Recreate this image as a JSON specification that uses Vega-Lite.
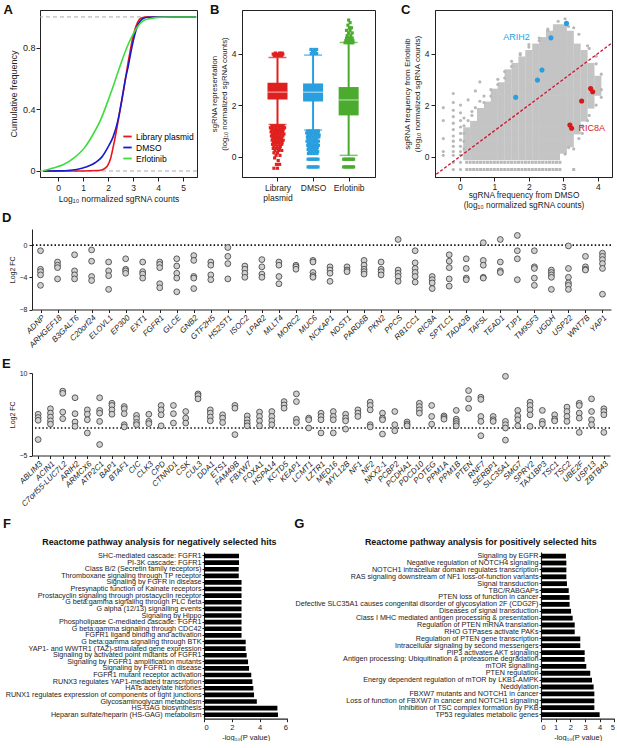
{
"$schema":"https://vega.github.io/schema/vega-lite/v6.json",
"background":"white",
"padding":{"left":2,"top":3,"right":0,"bottom":0},
"spacing":0,
"bounds":"full",
"config":{
 "font":"Liberation Sans",
 "view":{"stroke":null},
 "title":{"font":"Liberation Sans","color":"#111"},
 "axis":{"grid":false,"domainColor":"#222","tickColor":"#222","labelColor":"#222","titleColor":"#222","labelFont":"Liberation Sans","titleFont":"Liberation Sans","titleFontWeight":"normal","tickSize":4,"labelFontSize":8.5,"titleFontSize":8.5}
},
"vconcat":[
 {"hconcat":[
  {"width":8,"height":1,"data":{"values":[{"a":0}]},"mark":{"type":"point","opacity":0},"encoding":{}},
  {"width":157,"height":167,"view":{"stroke":"#222"},
   "title":{"text":"A","anchor":"start","frame":"group","dx":-36.5,"dy":16.5,"offset":0,"baseline":"alphabetic","fontSize":13,"fontWeight":"bold"},
   "layer":[
    {"data":{"values":[{"h":0},{"h":1}]},"mark":{"type":"rule","color":"#aaaaaa","strokeDash":[4,3],"strokeWidth":1},
     "encoding":{"y":{"field":"h","type":"quantitative","scale":{"domain":[-0.039,1.045]}}}},
    {"data":{"values":[
      {"s":"Library plasmid","c":[-0.6,1.0,1.6,1.8,1.9,2.0,2.1,2.2,2.3,2.4,2.5,2.6,2.7,2.8,2.9,3.0,3.1,3.2,3.3,3.5,5.5],"f":[0,0,0.003,0.01,0.02,0.04,0.08,0.15,0.23,0.32,0.41,0.5,0.6,0.7,0.79,0.87,0.93,0.97,0.99,1.0,1.0]},
      {"s":"DMSO","c":[-0.6,0,0.5,1.0,1.2,1.5,1.75,2.0,2.2,2.4,2.55,2.7,2.81,2.95,3.08,3.2,3.3,3.41,3.6,4.0,5.5],"f":[0,0.001,0.005,0.02,0.03,0.055,0.09,0.155,0.22,0.33,0.46,0.6,0.68,0.8,0.89,0.95,0.975,0.99,0.998,1,1]},
      {"s":"Erlotinib","c":[-0.6,-0.19,0.2,0.68,1.08,1.41,1.7,2.01,2.25,2.48,2.75,3.01,3.2,3.41,3.7,4.0,4.5,5.5],"f":[0.002,0.02,0.04,0.09,0.155,0.24,0.33,0.46,0.57,0.68,0.8,0.89,0.94,0.975,0.99,0.997,1,1]}
     ]},
     "transform":[{"flatten":["c","f"]}],
     "mark":{"type":"line","interpolate":"monotone","strokeWidth":1.6},
     "encoding":{
      "x":{"field":"c","type":"quantitative","scale":{"domain":[-0.72,5.56],"nice":false,"zero":false},"axis":{"values":[0,1,2,3,4,5],"title":"Log₁₀ normalized sgRNA counts","titleFontSize":8.5,"labelFontSize":8.5,"titlePadding":3}},
      "y":{"field":"f","type":"quantitative","scale":{"domain":[-0.039,1.045],"nice":false,"zero":false},"axis":{"values":[0,0.2,0.4,0.6,0.8,1],"labelExpr":"datum.value == 0 ? '0' : format(datum.value, '.1f')","title":"Cumulative frequency","titleFontSize":9,"labelFontSize":9,"labelPadding":1}},
      "color":{"field":"s","type":"nominal","scale":{"domain":["Library plasmid","DMSO","Erlotinib"],"range":["#e8141b","#1a1acc","#3ddc3d"]},
       "legend":{"orient":"none","legendX":82,"legendY":121,"title":null,"symbolType":"stroke","symbolSize":70,"symbolStrokeWidth":1.8,"labelFontSize":8.5,"labelFont":"Liberation Sans","rowPadding":1,"labelOffset":3,"padding":0}}
     }}
   ]},
  {"width":45,"height":1,"data":{"values":[{"a":0}]},"mark":{"type":"point","opacity":0},"encoding":{}},
  {"width":133,"height":167,"view":{"stroke":"#222"},
   "title":{"text":"B","anchor":"start","frame":"group","dx":-32,"dy":16.5,"offset":0,"baseline":"alphabetic","fontSize":13,"fontWeight":"bold"},
   "encoding":{
    "x":{"type":"quantitative","scale":{"domain":[0.143,3.6],"nice":false,"zero":false}},
    "color":{"field":"s","type":"nominal","scale":{"domain":["Library plasmid","DMSO","Erlotinib"],"range":["#e0201e","#2a9fdf","#4aab2f"]},"legend":null}
   },
   "layer":[
    {"data":{"values":[
      {"s":"Library plasmid","p":1,"lo":1.25,"q1":2.22,"md":2.5,"q3":2.87,"hi":3.85},
      {"s":"DMSO","p":2,"lo":1.03,"q1":2.14,"md":2.5,"q3":2.84,"hi":3.94},
      {"s":"Erlotinib","p":3,"lo":0.05,"q1":1.6,"md":2.2,"q3":2.7,"hi":4.43}]},
     "layer":[
      {"mark":{"type":"rule","strokeWidth":2},
       "encoding":{"x":{"field":"p","type":"quantitative","axis":{"values":[1,2,3],"labelExpr":"datum.value == 1 ? ['Library','plasmid'] : datum.value == 2 ? 'DMSO' : 'Erlotinib'","title":".","titleColor":"rgba(0,0,0,0)","titlePadding":0.2,"labelFontSize":8.5}},
        "y":{"field":"lo","type":"quantitative","scale":{"domain":[-0.79,5.69],"nice":false,"zero":false},"axis":{"values":[0,1,2,3,4,5],"title":["sgRNA representation","(log₁₀ normalized sgRNA counts)"],"titleFontSize":7.8,"labelFontSize":8.5,"labelPadding":2,"titlePadding":3}},
        "y2":{"field":"hi"}}},
      {"mark":{"type":"tick","orient":"horizontal","size":18,"thickness":1.5},
       "encoding":{"x":{"field":"p","type":"quantitative"},"y":{"field":"lo","type":"quantitative"}}},
      {"mark":{"type":"tick","orient":"horizontal","size":18,"thickness":1.5},
       "encoding":{"x":{"field":"p","type":"quantitative"},"y":{"field":"hi","type":"quantitative"}}},
      {"mark":{"type":"bar","size":20,"opacity":1},
       "encoding":{"x":{"field":"p","type":"quantitative"},"y":{"field":"q1","type":"quantitative"},"y2":{"field":"q3"}}},
      {"mark":{"type":"tick","orient":"horizontal","size":20,"thickness":1.3,"opacity":0.55},
       "encoding":{"x":{"field":"p","type":"quantitative"},"y":{"field":"md","type":"quantitative"},"color":{"value":"white"}}}
     ]},
    {"data":{"values":[
      {"s":"Library plasmid","y":3.98,"xs":[0.88,0.95,1.02,1.09,1.15]},
      {"s":"Library plasmid","y":3.92,"xs":[0.91,0.98,1.05,1.12]},
      {"s":"Library plasmid","y":4.02,"xs":[0.94,1.06,1.13]},
      {"s":"Library plasmid","y":1.2,"xs":[0.84,0.92,1.0,1.08,1.16]},
      {"s":"Library plasmid","y":1.12,"xs":[0.8,0.88,0.96,1.04,1.12,1.2]},
      {"s":"Library plasmid","y":1.04,"xs":[0.84,0.92,1.0,1.08,1.16]},
      {"s":"Library plasmid","y":0.96,"xs":[0.82,0.9,0.98,1.06,1.14]},
      {"s":"Library plasmid","y":0.88,"xs":[0.86,0.94,1.02,1.1,1.18]},
      {"s":"Library plasmid","y":0.8,"xs":[0.83,0.91,0.99,1.07,1.15]},
      {"s":"Library plasmid","y":0.72,"xs":[0.87,0.95,1.03,1.11]},
      {"s":"Library plasmid","y":0.64,"xs":[0.85,0.93,1.01,1.09,1.16]},
      {"s":"Library plasmid","y":0.56,"xs":[0.89,0.97,1.05,1.13]},
      {"s":"Library plasmid","y":0.48,"xs":[0.86,0.95,1.04,1.12]},
      {"s":"Library plasmid","y":0.4,"xs":[0.9,0.99,1.08]},
      {"s":"Library plasmid","y":0.32,"xs":[0.88,0.97,1.06]},
      {"s":"Library plasmid","y":0.24,"xs":[0.93,1.03,1.12]},
      {"s":"Library plasmid","y":0.15,"xs":[0.9,1.0]},
      {"s":"Library plasmid","y":0.05,"xs":[0.96,1.07]},
      {"s":"Library plasmid","y":-0.05,"xs":[0.92]},
      {"s":"Library plasmid","y":-0.15,"xs":[1.02]},
      {"s":"Library plasmid","y":-0.3,"xs":[0.97,1.06]},
      {"s":"Library plasmid","y":-0.45,"xs":[0.9,1.0]},
      {"s":"DMSO","y":4.0,"xs":[1.95,2.03,2.1]},
      {"s":"DMSO","y":4.08,"xs":[1.98,2.06]},
      {"s":"DMSO","y":4.16,"xs":[1.94,2.02,2.1]},
      {"s":"DMSO","y":1.0,"xs":[1.85,1.93,2.01,2.09,2.15]},
      {"s":"DMSO","y":0.92,"xs":[1.82,1.9,1.98,2.06,2.14]},
      {"s":"DMSO","y":0.84,"xs":[1.86,1.94,2.02,2.1,2.17]},
      {"s":"DMSO","y":0.76,"xs":[1.84,1.92,2.0,2.08,2.16]},
      {"s":"DMSO","y":0.68,"xs":[1.86,1.94,2.02,2.1]},
      {"s":"DMSO","y":0.6,"xs":[1.83,1.91,1.99,2.07,2.15]},
      {"s":"DMSO","y":0.52,"xs":[1.87,1.95,2.03,2.11]},
      {"s":"DMSO","y":0.44,"xs":[1.85,1.93,2.01,2.09,2.15]},
      {"s":"DMSO","y":0.36,"xs":[1.88,1.96,2.04,2.12]},
      {"s":"DMSO","y":0.28,"xs":[1.86,1.94,2.02,2.1]},
      {"s":"DMSO","y":0.2,"xs":[1.89,1.97,2.05,2.13]},
      {"s":"DMSO","y":0.12,"xs":[1.87,1.95,2.03,2.11]},
      {"s":"DMSO","y":-0.1,"xs":[1.86,1.9,1.94,1.98,2.02,2.06,2.1,2.14]},
      {"s":"DMSO","y":-0.4,"xs":[1.86,1.9,1.94,1.98,2.02,2.06,2.1,2.14]},
      {"s":"Erlotinib","y":4.42,"xs":[2.9,2.96,3.02,3.08,3.12]},
      {"s":"Erlotinib","y":4.5,"xs":[2.92,3.0,3.06,3.12]},
      {"s":"Erlotinib","y":4.6,"xs":[2.94,3.02,3.1]},
      {"s":"Erlotinib","y":4.7,"xs":[2.96,3.06]},
      {"s":"Erlotinib","y":4.8,"xs":[3.0,3.1]},
      {"s":"Erlotinib","y":4.9,"xs":[2.94,3.04]},
      {"s":"Erlotinib","y":5.0,"xs":[3.02,3.08]},
      {"s":"Erlotinib","y":5.1,"xs":[2.98]},
      {"s":"Erlotinib","y":5.2,"xs":[3.04]},
      {"s":"Erlotinib","y":5.3,"xs":[3.0]},
      {"s":"Erlotinib","y":-0.1,"xs":[2.86,2.9,2.94,2.98,3.02,3.06,3.1,3.14]},
      {"s":"Erlotinib","y":-0.4,"xs":[2.86,2.9,2.94,2.98,3.02,3.06,3.1,3.14]}
     ]},
     "transform":[{"flatten":["xs"]}],
     "mark":{"type":"point","shape":"square","filled":true,"size":10,"opacity":1},
     "encoding":{"x":{"field":"xs","type":"quantitative"},"y":{"field":"y","type":"quantitative"}}}
   ]},
  {"width":60,"height":1,"data":{"values":[{"a":0}]},"mark":{"type":"point","opacity":0},"encoding":{}},
  {"width":177,"height":167,"view":{"stroke":"#222"},
   "title":{"text":"C","anchor":"start","frame":"group","dx":-34,"dy":16.5,"offset":0,"baseline":"alphabetic","fontSize":13,"fontWeight":"bold"},
   "layer":[
    {"data":{"values":[
      {"x":0.2,"ys":[0,0.25,0.5,0.75,1]},
      {"x":0.4,"ys":[0,0.25,0.5,0.75,1,1.25]},
      {"x":0.6,"ys":[0,0.25,0.5,0.75,1,1.25,1.5,1.75]},
      {"x":0.8,"ys":[0,0.25,0.5,0.75,1,1.25,1.5,1.75,2]},
      {"x":1.0,"ys":[0,0.25,0.5,0.75,1,1.25,1.5,1.75,2,2.25,2.5]},
      {"x":1.2,"ys":[0,0.25,0.5,0.75,1,1.25,1.5,1.75,2,2.25,2.5,2.75]},
      {"x":1.4,"ys":[0,0.25,0.5,0.75,1,1.25,1.5,1.75,2,2.25,2.5,2.75,3,3.25]},
      {"x":1.6,"ys":[0,0.25,0.5,0.75,1,1.25,1.5,1.75,2,2.25,2.5,2.75,3,3.25,3.5]},
      {"x":1.8,"ys":[0,0.25,0.5,0.75,1,1.25,1.5,1.75,2,2.25,2.5,2.75,3,3.25,3.5,3.75]},
      {"x":2.0,"ys":[0,0.25,0.5,0.75,1,1.25,1.5,1.75,2,2.25,2.5,2.75,3,3.25,3.5,3.75,4]},
      {"x":2.2,"ys":[0,0.25,0.5,0.75,1,1.25,1.5,1.75,2,2.25,2.5,2.75,3,3.25,3.5,3.75,4,4.25]},
      {"x":2.4,"ys":[0,0.25,0.5,0.75,1,1.25,1.5,1.75,2,2.25,2.5,2.75,3,3.25,3.5,3.75,4,4.25,4.5]},
      {"x":2.6,"ys":[0,0.25,0.5,0.75,1,1.25,1.5,1.75,2,2.25,2.5,2.75,3,3.25,3.5,3.75,4,4.25,4.5,4.75]},
      {"x":2.8,"ys":[0,0.25,0.5,0.75,1,1.25,1.5,1.75,2,2.25,2.5,2.75,3,3.25,3.5,3.75,4,4.25,4.5,4.75,5]},
      {"x":3.0,"ys":[0.25,0.5,0.75,1,1.25,1.5,1.75,2,2.25,2.5,2.75,3,3.25,3.5,3.75,4,4.25,4.5,4.75,5]},
      {"x":3.2,"ys":[0.5,0.75,1,1.25,1.5,1.75,2,2.25,2.5,2.75,3,3.25,3.5,3.75,4,4.25,4.5,4.75]},
      {"x":3.4,"ys":[1,1.25,1.5,1.75,2,2.25,2.5,2.75,3,3.25,3.5,3.75,4,4.25]},
      {"x":3.6,"ys":[1.5,1.75,2,2.25,2.5,2.75,3,3.25,3.5,3.75,4]},
      {"x":3.8,"ys":[2,2.25,2.5,2.75,3,3.25,3.5]},
      {"x":4.0,"ys":[2.5,2.75,3]}
     ]},
     "transform":[{"flatten":["ys"]}],
     "mark":{"type":"point","shape":"square","filled":true,"size":50,"color":"#c4c4c4","opacity":1},
     "encoding":{
      "x":{"field":"x","type":"quantitative","scale":{"domain":[-0.72,4.41],"nice":false,"zero":false},"axis":{"values":[0,1,2,3,4],"title":["sgRNA frequency from DMSO","(log₁₀ normalized sgRNA counts)"],"titleFontSize":8.3,"labelFontSize":8.5,"labelPadding":1,"titlePadding":0}},
      "y":{"field":"ys","type":"quantitative","scale":{"domain":[-0.79,5.69],"nice":false,"zero":false},"axis":{"values":[0,1,2,3,4,5],"title":["sgRNA frequency from Erlotinib","(log₁₀ normalized sgRNA counts)"],"titleFontSize":8,"labelFontSize":8.5,"labelPadding":2,"titlePadding":3}}}},
    {"data":{"values":[
      {"x":-0.48,"ys":[1.9,1.4,0.7,0.2,0.05]},
      {"x":-0.19,"ys":[2.45,2.1,1.8,1.55,1.3,1.05,0.8,0.6,0.4,0.2,0.05,-0.22,-0.5]},
      {"x":0.02,"ys":[2.0,1.7,1.4,1.15,0.9,0.65,0.4,0.2,0.05,-0.22,-0.5]},
      {"x":0.12,"ys":[1.5,1.2,0.9,0.6,0.3]},
      {"x":0.24,"ys":[2.2,1.4]},
      {"x":0.35,"ys":[1.75,1.6]},
      {"x":0.45,"ys":[2.55,1.9]},
      {"x":0.58,"ys":[2.9,2.15]},
      {"x":0.7,"ys":[2.35,2.1]},
      {"x":0.9,"ys":[2.6,2.35]},
      {"x":1.1,"ys":[3.0,2.8]},
      {"x":1.3,"ys":[3.3,3.05]},
      {"x":1.5,"ys":[3.7,3.5]},
      {"x":1.75,"ys":[4.0,3.95]},
      {"x":2.0,"ys":[4.35,4.25]},
      {"x":2.3,"ys":[4.6,4.5]},
      {"x":2.55,"ys":[4.95,4.9]},
      {"x":2.85,"ys":[5.25]},
      {"x":3.05,"ys":[5.35,0.1]},
      {"x":3.15,"ys":[5.05,0.35]},
      {"x":3.3,"ys":[0.3,5.0]},
      {"x":3.45,"ys":[4.75,0.7]},
      {"x":3.55,"ys":[0.9,1.2]},
      {"x":3.7,"ys":[4.3,1.4]},
      {"x":3.75,"ys":[1.6,4.2]},
      {"x":3.95,"ys":[2.0,3.9,3.6]},
      {"x":4.1,"ys":[2.6,3.2,2.3]}
     ]},
     "transform":[{"flatten":["ys"]}],
     "mark":{"type":"point","shape":"circle","filled":true,"size":10,"color":"#b8b8b8","opacity":1},
     "encoding":{"x":{"field":"x","type":"quantitative"},"y":{"field":"ys","type":"quantitative"}}},
    {"data":{"values":[
      {"y":-0.22,"xs":[0.2,0.3,0.4,0.5,0.6,0.7,0.8,0.9,1.0,1.1,1.2,1.3,1.4,1.5,1.6,1.7,1.8,1.9,2.0,2.1,2.2,2.3,2.4,2.5,2.6,2.7,2.8,2.9]},
      {"y":-0.5,"xs":[0.2,0.3,0.4,0.5,0.6,0.7,0.8,0.9,1.0,1.1,1.2,1.3,1.4,1.5,1.6,1.7,1.8,1.9,2.0,2.1,2.2,2.3,2.4,2.5,2.6,2.7,2.8,2.9,3.3]}
     ]},
     "transform":[{"flatten":["xs"]}],
     "mark":{"type":"point","shape":"square","filled":true,"size":9,"color":"#b8b8b8","opacity":1},
     "encoding":{"x":{"field":"xs","type":"quantitative"},"y":{"field":"y","type":"quantitative"}}},
    {"data":{"values":[{"a":-0.8,"b":-0.8},{"a":4.5,"b":4.5}]},
     "mark":{"type":"line","color":"#c8102e","strokeDash":[3,2],"strokeWidth":1.3,"clip":true},
     "encoding":{"x":{"field":"a","type":"quantitative"},"y":{"field":"b","type":"quantitative"}}},
    {"data":{"values":[
      {"g":"ARIH2","a":1.62,"b":2.30},{"g":"ARIH2","a":2.25,"b":2.97},{"g":"ARIH2","a":2.38,"b":3.36},{"g":"ARIH2","a":2.64,"b":4.61},{"g":"ARIH2","a":3.09,"b":5.17},
      {"g":"RIC8A","a":3.53,"b":2.16},{"g":"RIC8A","a":3.79,"b":2.64},{"g":"RIC8A","a":3.85,"b":2.52},{"g":"RIC8A","a":3.19,"b":1.23},{"g":"RIC8A","a":3.24,"b":1.10}
     ]},
     "mark":{"type":"point","shape":"circle","filled":true,"size":26,"opacity":1},
     "encoding":{"x":{"field":"a","type":"quantitative"},"y":{"field":"b","type":"quantitative"},
      "color":{"field":"g","type":"nominal","scale":{"domain":["ARIH2","RIC8A"],"range":["#2a9fdf","#d7191c"]},"legend":null}}},
    {"data":{"values":[{"g":"ARIH2","a":1.64,"b":4.65},{"g":"RIC8A","a":3.82,"b":1.1}]},
     "mark":{"type":"text","fontSize":9,"baseline":"middle","align":"center"},
     "encoding":{"x":{"field":"a","type":"quantitative"},"y":{"field":"b","type":"quantitative"},"text":{"field":"g"},
      "color":{"field":"g","type":"nominal","legend":null}}}
   ]}
  ],
  "spacing":0,"bounds":"flush",
  "resolve":{"scale":{"color":"independent"},"legend":{"color":"independent"}}},
 {"width":579,"height":80.5,
  "title":{"text":"D","anchor":"start","frame":"group","dx":-30,"dy":6,"offset":0,"baseline":"alphabetic","fontSize":13,"fontWeight":"bold"},
  "layer":[
   {"data":{"values":[{"z":0}]},"mark":{"type":"rule","color":"#111","strokeDash":[1.5,2.2],"strokeWidth":1.6},
    "encoding":{"y":{"field":"z","type":"quantitative","scale":{"domain":[-8,2],"nice":false}}}},
   {"data":{"values":[
     {"g":"ADNP","v":[-0.7,-3.0,-3.3,-3.7,-5.0]},
     {"g":"ARHGEF18","v":[-2.1,-2.5,-2.8,-4.2]},
     {"g":"B3GALT6","v":[-1.2,-3.2,-3.7,-4.2]},
     {"g":"C20orf24","v":[-0.6,-2.0,-3.9,-4.4]},
     {"g":"ELOVL1","v":[-2.1,-3.2,-3.8,-5.5]},
     {"g":"EP300","v":[-1.7,-3.0,-3.2,-3.5]},
     {"g":"EXT1","v":[-2.1,-3.3,-3.6,-4.1]},
     {"g":"FGFR1","v":[-2.1,-2.4,-2.8,-4.8,-5.3]},
     {"g":"GLCE","v":[-1.7,-2.6,-3.5,-4.1,-5.8]},
     {"g":"GNB2","v":[-1.3,-1.9,-3.9,-4.1,-5.4]},
     {"g":"GTF2H5","v":[-2.1,-2.5,-3.7,-4.3]},
     {"g":"HS2ST1","v":[-0.3,-1.4,-2.3,-4.2]},
     {"g":"ISOC2","v":[-2.6,-3.0,-3.5,-4.0]},
     {"g":"LPAR2","v":[-1.8,-2.7,-3.6,-4.0]},
     {"g":"MLLT4","v":[-2.1,-2.5,-3.9,-4.8]},
     {"g":"MORC2","v":[-2.5,-2.7,-3.0]},
     {"g":"MUC6","v":[-1.9,-2.1,-3.4,-3.8,-4.0]},
     {"g":"NCKAP1","v":[-2.7,-3.1,-3.5,-4.5]},
     {"g":"NDST1","v":[-2.7,-3.1,-3.3]},
     {"g":"PARD6B","v":[-1.9,-2.5,-3.0,-3.3,-3.6]},
     {"g":"PKN2","v":[-2.1,-3.0,-3.3,-3.7]},
     {"g":"PPCS","v":[0.7,-3.1,-3.5,-3.9,-4.5]},
     {"g":"RB1CC1","v":[-0.7,-2.2,-2.9,-3.4,-3.9,-4.6]},
     {"g":"RIC8A","v":[-3.9,-4.3,-4.7,-5.4]},
     {"g":"SPTLC1","v":[-1.2,-2.0,-2.8,-4.2,-5.1]},
     {"g":"TADA2B","v":[-1.7,-2.9,-4.1,-4.3]},
     {"g":"TAF5L","v":[0.3,-1.9,-2.5,-4.0,-4.1]},
     {"g":"TEAD1","v":[0.7,-2.1,-3.2,-3.4]},
     {"g":"TJP1","v":[1.2,-0.7,-1.7,-4.3]},
     {"g":"TM9SF3","v":[-0.7,-2.7,-2.9,-4.1,-5.0]},
     {"g":"UGDH","v":[-3.1,-3.4,-3.7,-4.0,-5.5]},
     {"g":"USP22","v":[-0.1,-2.9,-4.0,-4.7,-5.0,-5.5]},
     {"g":"WNT7B","v":[-1.4,-2.7,-3.0,-3.1]},
     {"g":"YAP1","v":[-1.0,-1.4,-1.8,-2.3,-2.9,-6.1]}
    ]},
    "transform":[{"flatten":["v"]}],
    "mark":{"type":"point","shape":"circle","filled":true,"size":34,"fill":"#d0d0d0","stroke":"#3a3a3a","strokeWidth":0.8,"opacity":1},
    "encoding":{
     "x":{"field":"g","type":"nominal","sort":null,"scale":{"paddingInner":0,"paddingOuter":0},"axis":{"title":".","titleColor":"rgba(0,0,0,0)","titleFontSize":8,"titlePadding":0.5,"labelAngle":-45,"labelFontSize":8,"labelFontStyle":"italic","tickSize":3,"labelPadding":1}},
     "y":{"field":"v","type":"quantitative","axis":{"values":[-8,-6,-4,-2,0,2],"title":"Log2 FC","titleFontSize":7,"labelFontSize":7,"tickSize":3,"titlePadding":4}}}}
  ]},
 {"width":578,"height":82.5,
  "title":{"text":"E","anchor":"start","frame":"group","dx":-30,"dy":12,"offset":0,"baseline":"alphabetic","fontSize":13,"fontWeight":"bold"},
  "layer":[
   {"data":{"values":[{"z":0}]},"mark":{"type":"rule","color":"#111","strokeDash":[1.5,2.2],"strokeWidth":1.6},
    "encoding":{"y":{"field":"z","type":"quantitative","scale":{"domain":[-5,10],"nice":false}}}},
   {"data":{"values":[
     {"g":"ABLIM3","v":[2.5,1.9,1.4,-2.1]},
     {"g":"ACIN1","v":[3.5,2.7,2.0,1.3,0.7]},
     {"g":"C7orf55-LUC7L2","v":[6.7,6.3,2.9,1.7]},
     {"g":"ARIH2","v":[5.5,2.6,1.1,0.3]},
     {"g":"ARMCX6","v":[3.3,2.5,1.5,-0.9]},
     {"g":"ATP2C1","v":[5.5,3.2,2.7,1.2,-3.0]},
     {"g":"BAP1","v":[4.5,4.1,3.3,2.5]},
     {"g":"BTAF1","v":[3.9,3.5,2.6,0.6,0.2]},
     {"g":"CIC","v":[2.3,1.7,1.0,0.6]},
     {"g":"CLK3","v":[2.5,1.2,0.8]},
     {"g":"CPD","v":[4.1,3.3,2.4,0.4]},
     {"g":"CTNND1","v":[4.1,2.6,0.9]},
     {"g":"CSK","v":[3.0,1.8,0.9]},
     {"g":"CUL3","v":[6.2,5.9,5.3]},
     {"g":"DDA1","v":[3.3,2.7,2.0,1.3]},
     {"g":"ETS1","v":[2.4,1.8,1.0]},
     {"g":"FAM49B","v":[4.1,3.6,-1.2]},
     {"g":"FBXW7","v":[2.2,1.5,0.9,0.4]},
     {"g":"FOXA1","v":[2.9,2.1,1.3,0.4]},
     {"g":"HSPA14","v":[3.0,2.1,1.3,0.6]},
     {"g":"KCTD5","v":[4.8,4.2,3.6]},
     {"g":"KEAP1","v":[6.2,4.8,1.6,1.0]},
     {"g":"LCMT1","v":[1.8,1.5,0.0]},
     {"g":"LZTR1","v":[2.7,2.1,1.5,-0.9]},
     {"g":"MED16","v":[3.0,2.1,1.5,-0.9]},
     {"g":"MYL12B","v":[2.5,1.8,1.3,-0.2]},
     {"g":"NF1","v":[3.3,2.7,2.1]},
     {"g":"NF2","v":[4.7,4.1,3.3,0.6,0.2]},
     {"g":"NKX2-1","v":[2.7,1.8,1.5,-1.1]},
     {"g":"PCBP2","v":[3.0,0.6,-0.5]},
     {"g":"PCDHA1","v":[1.1,0.7,0.4]},
     {"g":"PDCD10","v":[4.5,3.9,3.3,2.7]},
     {"g":"POTEG","v":[4.1,2.1,0.7]},
     {"g":"PPM1A","v":[2.2,1.9,1.6]},
     {"g":"PPM1B","v":[3.2,1.6,1.2,0.8,0.4]},
     {"g":"PTEN","v":[6.8,5.3,3.6]},
     {"g":"RNF7","v":[5.6,5.2,2.1,1.2,-1.4]},
     {"g":"SERBP1","v":[2.1,1.5,1.2]},
     {"g":"SLC35A1","v":[9.4,1.2,0.6,0.0,-2.2]},
     {"g":"SMG7","v":[3.2,2.2,1.5,0.4]},
     {"g":"SPRY2","v":[4.7,4.1,3.3,2.4,0.3]},
     {"g":"TAX1BP3","v":[3.2,1.2,0.7]},
     {"g":"TSC1","v":[2.4,1.6,1.3]},
     {"g":"TSC2","v":[3.8,3.0,2.1,1.2]},
     {"g":"UBE2F","v":[4.5,4.1,2.7,1.8,-0.8]},
     {"g":"USP13","v":[5.3,3.0,1.5,0.6]},
     {"g":"ZBTB43","v":[3.5,3.0,2.4,-0.8]}
    ]},
    "transform":[{"flatten":["v"]}],
    "mark":{"type":"point","shape":"circle","filled":true,"size":34,"fill":"#d0d0d0","stroke":"#3a3a3a","strokeWidth":0.8,"opacity":1},
    "encoding":{
     "x":{"field":"g","type":"nominal","sort":null,"scale":{"paddingInner":0,"paddingOuter":0.08},"axis":{"title":".","titleColor":"rgba(0,0,0,0)","titleFontSize":8,"titlePadding":0.6,"labelAngle":-45,"labelFontSize":8,"labelFontStyle":"italic","tickSize":3,"labelPadding":1}},
     "y":{"field":"v","type":"quantitative","axis":{"values":[-5,0,5,10],"title":"Log2 FC","titleFontSize":7,"labelFontSize":7,"tickSize":3,"titlePadding":4}}}}
  ]},
 {"hconcat":[
  {"width":171.3,"height":1,"data":{"values":[{"a":0}]},"mark":{"type":"point","opacity":0},"encoding":{},
   "title":{"text":"F","anchor":"start","frame":"group","dx":-29,"dy":-9.2,"offset":0,"baseline":"alphabetic","fontSize":13,"fontWeight":"bold"}},
  {"width":83.4,"height":166.7,
   "title":{"text":"Reactome pathway analysis for negatively selected hits","anchor":"middle","frame":"bounds","dx":13,"dy":2,"offset":0,"baseline":"alphabetic","fontSize":8.9,"fontWeight":"bold"},
   "data":{"values":[
    {"p":"SHC-mediated cascade: FGFR1","v":2.52},
    {"p":"PI-3K cascade: FGFR1","v":2.52},
    {"p":"Class B/2 (Secretin family receptors)","v":2.5},
    {"p":"Thromboxane signaling through TP receptor","v":2.5},
    {"p":"Signaling by FGFR in disease","v":2.7},
    {"p":"Presynaptic function of Kainate receptors","v":2.7},
    {"p":"Prostacyclin signaling through prostacyclin receptor","v":2.7},
    {"p":"G beta:gamma signaling through PLC beta","v":2.7},
    {"p":"G alpha (12/13) signalling events","v":2.7},
    {"p":"Signaling by Hippo","v":2.7},
    {"p":"Phospholipase C-mediated cascade: FGFR1","v":2.7},
    {"p":"G beta:gamma signaling through CDC42","v":2.7},
    {"p":"FGFR1 ligand binding and activation","v":2.7},
    {"p":"G beta:gamma signaling through BTK","v":3.0},
    {"p":"YAP1- and WWTR1 (TAZ)-stimulated gene expression","v":3.0},
    {"p":"Signaling by activated point mutants of FGFR1","v":3.07},
    {"p":"Signaling by FGFR1 amplification mutants","v":3.17},
    {"p":"Signaling by FGFR1 in disease","v":3.24},
    {"p":"FGFR1 mutant receptor activation","v":3.4},
    {"p":"RUNX3 regulates YAP1-mediated transcription","v":3.48},
    {"p":"HATs acetylate histones","v":3.55},
    {"p":"RUNX1 regulates expression of components of tight junctions","v":3.6},
    {"p":"Glycosaminoglycan metabolism","v":3.8},
    {"p":"HS-GAG biosynthesis","v":5.28},
    {"p":"Heparan sulfate/heparin (HS-GAG) metabolism","v":5.32}
   ]},
   "mark":{"type":"bar","color":"#000"},
   "encoding":{
    "y":{"field":"p","type":"nominal","sort":null,"scale":{"paddingInner":0.3,"paddingOuter":0.25},"axis":{"title":null,"labelFontSize":7.2,"labelLimit":400,"tickSize":2,"labelPadding":1,"domainWidth":1.2}},
    "x":{"field":"v","type":"quantitative","scale":{"domain":[0,6],"nice":false},"axis":{"values":[0,2,4,6],"title":"-log₁₀(P value)","titleFontSize":7.5,"labelFontSize":7.5,"tickSize":3,"domainWidth":1.2,"titlePadding":2}}}},
  {"width":252.3,"height":1,"data":{"values":[{"a":0}]},"mark":{"type":"point","opacity":0},"encoding":{},
   "title":{"text":"G","anchor":"start","frame":"group","dx":6.3,"dy":-9.2,"offset":0,"baseline":"alphabetic","fontSize":13,"fontWeight":"bold"}},
  {"width":73.3,"height":166.7,
   "title":{"text":"Reactome pathway analysis for positively selected hits","anchor":"middle","frame":"bounds","dx":26,"dy":2,"offset":0,"baseline":"alphabetic","fontSize":8.9,"fontWeight":"bold"},
   "data":{"values":[
    {"p":"Signaling by EGFR","v":1.7},
    {"p":"Negative regulation of NOTCH4 signaling","v":1.73},
    {"p":"NOTCH1 intracellular domain regulates transcription","v":1.73},
    {"p":"RAS signaling downstream of NF1 loss-of-function variants","v":1.73},
    {"p":"Signal transduction","v":1.77},
    {"p":"TBC/RABGAPs","v":1.89},
    {"p":"PTEN loss of function in cancer","v":1.95},
    {"p":"Defective SLC35A1 causes congenital disorder of glycosylation 2F (CDG2F)","v":1.95},
    {"p":"Diseases of signal transduction","v":2.05},
    {"p":"Class I MHC mediated antigen processing & presentation","v":2.16},
    {"p":"Regulation of PTEN mRNA translation","v":2.3},
    {"p":"RHO GTPases activate PAKs","v":2.3},
    {"p":"Regulation of PTEN gene transcription","v":2.68},
    {"p":"Intracellular signaling by second messengers","v":2.68},
    {"p":"PIP3 activates AKT signaling","v":2.98},
    {"p":"Antigen processing: Ubiquitination & proteasome degradation","v":2.98},
    {"p":"mTOR signalling","v":3.09},
    {"p":"PTEN regulation","v":3.36},
    {"p":"Energy dependent regulation of mTOR by LKB1-AMPK","v":3.48},
    {"p":"Neddylation","v":3.59},
    {"p":"FBXW7 mutants and NOTCH1 in cancer","v":3.64},
    {"p":"Loss of function of FBXW7 in cancer and NOTCH1 signaling","v":3.64},
    {"p":"Inhibition of TSC complex formation by PKB","v":3.64},
    {"p":"TP53 regulates metabolic genes","v":4.0}
   ]},
   "mark":{"type":"bar","color":"#000"},
   "encoding":{
    "y":{"field":"p","type":"nominal","sort":null,"scale":{"paddingInner":0.3,"paddingOuter":0.25},"axis":{"title":null,"labelFontSize":7.2,"labelLimit":400,"tickSize":2,"labelPadding":1,"domainWidth":1.2}},
    "x":{"field":"v","type":"quantitative","scale":{"domain":[0,5],"nice":false},"axis":{"values":[0,1,2,3,4,5],"title":"-log₁₀(P value)","titleFontSize":7.5,"labelFontSize":7.5,"tickSize":3,"domainWidth":1.2,"titlePadding":2}}}}
  ],
  "spacing":0,"bounds":"flush"}
]
}
